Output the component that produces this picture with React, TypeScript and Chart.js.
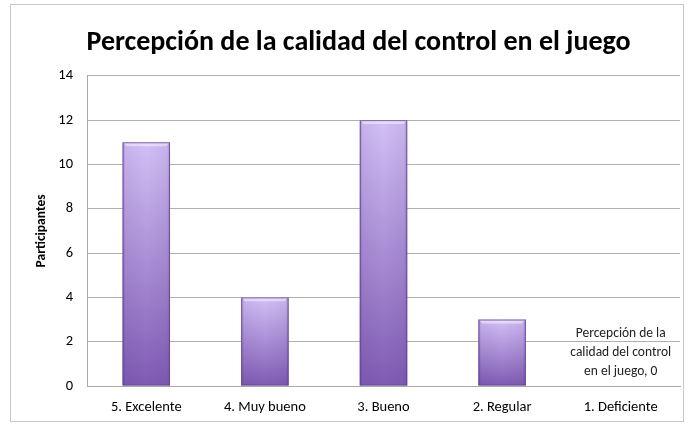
import React, { useEffect, useRef } from "react";
import { Chart, registerables } from "chart.js";

Chart.register(...registerables);

const titleText = "Percepción de la calidad del control en el juego";
const categories = ["5. Excelente", "4. Muy bueno", "3. Bueno", "2. Regular", "1. Deficiente"];
const participants = [11, 4, 12, 3, 0];
const dataLabels: (string[] | null)[] = [null, null, null, null, ["Percepción de la", "calidad del control", "en el juego, 0"]];
const yTitle = "Participantes";
const yMin = 0;
const yMax = 14;
const yStep = 2;

const FONT = "Carlito, Calibri, Lato, 'Open Sans', sans-serif";

const barStyle = {
  id: "barStyle",
  afterDatasetsDraw(chart: any) {
    const ctx = chart.ctx;
    const meta = chart.getDatasetMeta(0);
    meta.data.forEach((el: any, i: number) => {
      const { x, y, base, width } = el.getProps(["x", "y", "base", "width"], true);
      const left = x - width / 2;
      const h = base - y;
      if (h > 1) {
        ctx.save();
        const hg = ctx.createLinearGradient(left, 0, left + width, 0);
        hg.addColorStop(0, "rgba(70,40,120,0.35)");
        hg.addColorStop(0.06, "rgba(70,40,120,0.08)");
        hg.addColorStop(0.5, "rgba(70,40,120,0)");
        hg.addColorStop(0.94, "rgba(70,40,120,0.08)");
        hg.addColorStop(1, "rgba(70,40,120,0.35)");
        ctx.fillStyle = hg;
        ctx.fillRect(left, y, width, h);
        ctx.fillStyle = "rgba(255,255,255,0.45)";
        ctx.beginPath();
        ctx.moveTo(left, y);
        ctx.lineTo(left + width, y);
        ctx.lineTo(left + width - 4, y + 4);
        ctx.lineTo(left + 4, y + 4);
        ctx.closePath();
        ctx.fill();
        ctx.strokeStyle = "rgba(100,70,150,0.8)";
        ctx.lineWidth = 1;
        ctx.strokeRect(left + 0.5, y + 0.5, width - 1, h - 1);
        ctx.restore();
      }
      const lbl = dataLabels[i];
      if (lbl) {
        ctx.save();
        ctx.font = `13.5px ${FONT}`;
        ctx.fillStyle = "#222";
        ctx.textAlign = "center";
        ctx.textBaseline = "middle";
        const lh = 19;
        lbl.forEach((line, k) => {
          ctx.fillText(line, x, y - 14 - (lbl.length - 1 - k) * lh);
        });
        ctx.restore();
      }
    });
  },
};

const titleDraw = {
  id: "titleDraw",
  afterDraw(chart: any) {
    const ctx = chart.ctx;
    ctx.save();
    ctx.font = `bold 28px ${FONT}`;
    ctx.fillStyle = "#000";
    ctx.textAlign = "center";
    ctx.textBaseline = "middle";
    const ca = chart.chartArea;
    ctx.fillText(titleText, (ca.left + ca.right) / 2 - 25, 38);
    ctx.restore();
  },
};

export default function App() {
  const ref = useRef<HTMLCanvasElement>(null);
  useEffect(() => {
    if (!ref.current) return;
    const chart = new Chart(ref.current, {
      type: "bar",
      data: {
        labels: categories,
        datasets: [
          {
            data: participants,
            backgroundColor: (c: any) => {
              const ch = c.chart;
              const ys = ch.scales?.y;
              if (!ys || c.dataIndex === undefined) return "#a080d0";
              const v = participants[c.dataIndex];
              const top = ys.getPixelForValue(v);
              const bot = ys.getPixelForValue(0);
              if (!isFinite(top) || !isFinite(bot) || bot - top < 1) return "#a080d0";
              const g = ch.ctx.createLinearGradient(0, top, 0, bot);
              g.addColorStop(0, "#d3c0f6");
              g.addColorStop(1, "#7f5bb3");
              return g;
            },
            borderWidth: 0,
            barPercentage: 0.4,
            categoryPercentage: 1,
          },
        ],
      },
      options: {
        animation: false,
        responsive: false,
        maintainAspectRatio: false,
        layout: { padding: { left: 0, right: 3, top: 0, bottom: 0 } },
        plugins: {
          legend: { display: false },
          tooltip: { enabled: false },
          title: {
            display: true,
            text: titleText,
            color: "rgba(0,0,0,0)",
            font: { family: FONT, size: 24, weight: "bold" },
            padding: { top: 22, bottom: 20 },
          },
        },
        scales: {
          x: {
            grid: { display: false, drawTicks: false },
            border: { display: true, color: "#a8a8a8" },
            ticks: { color: "#000", font: { family: FONT, size: 14.5 }, padding: 13 },
            afterFit: (s: any) => { s.height = 35; },
          },
          y: {
            min: yMin,
            max: yMax,
            ticks: { stepSize: yStep, color: "#000", font: { family: FONT, size: 14.5 }, padding: 14 },
            grid: { color: "#b0b0b0", drawTicks: false },
            border: { display: true, color: "#a8a8a8" },
            title: { display: true, text: yTitle, color: "#000", font: { family: FONT, size: 13.5, weight: "bold" }, padding: { top: 23, bottom: 0 } },
            afterFit: (s: any) => { s.width = 76; },
          },
        },
      },
      plugins: [barStyle, titleDraw],
    });
    return () => chart.destroy();
  }, []);
  return (
    <div style={{ position: "fixed", left: 10, top: 4, width: 674, height: 418, border: "1px solid #c8c8c8", boxSizing: "border-box", background: "#fff" }}>
      <canvas ref={ref} width={672} height={416} style={{ display: "block" }} />
    </div>
  );
}
